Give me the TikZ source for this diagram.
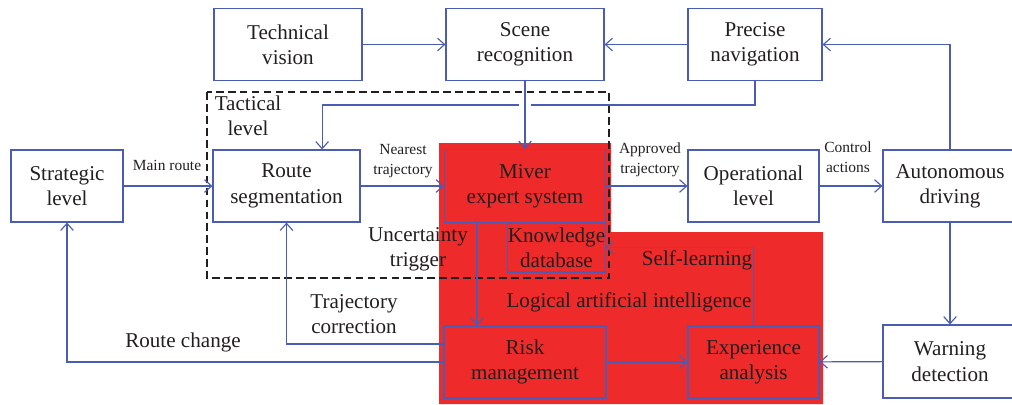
\documentclass[tikz,border=0pt]{standalone}
\usepackage{fontspec}
\setmainfont{Liberation Serif}
\usetikzlibrary{arrows.meta, positioning, calc}
\definecolor{linkblue}{HTML}{4A5CB4}
\definecolor{aired}{HTML}{EE2A2A}
\definecolor{inkgray}{HTML}{231F20}
\tikzset{
  block/.style={draw=linkblue, line width=0.8pt, align=center, text=inkgray,
    font=\fontsize{15}{18}\selectfont, inner sep=0pt},
  flow/.style={draw=linkblue, line width=0.8pt, -{Straight Barb[length=5pt,width=9pt]}},
  note/.style={align=center, text=inkgray, font=\fontsize{11}{14.5}\selectfont, inner sep=1pt},
  tag/.style={align=center, text=inkgray, font=\fontsize{15}{18}\selectfont, inner sep=1pt},
}

\begin{document}
\begin{tikzpicture}[x=0.025cm, y=-0.025cm]
  \clip (0,0) rectangle (1012,404);

  % logical AI area and tactical level frame
  \fill[aired] (439,143) -- (611,143) -- (611,232) -- (823,232) -- (823,404) -- (439,404) -- cycle;
  \draw[inkgray, line width=0.8pt, dash pattern=on 5.5pt off 3pt] (207,92) rectangle (609,278);

  % top row
  \node[block, minimum width=3.7cm, minimum height=1.78cm] (techvis) at (288,44.5) {Technical\\vision};
  \node[block, minimum width=3.95cm, minimum height=1.78cm] (scene) at (525,44.5) {Scene\\recognition};
  \node[block, minimum width=3.35cm, minimum height=1.78cm] (precnav) at (755,44.5) {Precise\\navigation};

  % middle row
  \node[block, minimum width=2.8cm, minimum height=1.8cm] (strategic) at (67,186) {Strategic\\level};
  \node[block, minimum width=3.675cm, minimum height=1.8cm] (routeseg) at (286.5,186) {Route\\segmentation};
  \node[block, minimum width=4.025cm, minimum height=1.825cm] (miver) at (525,186) {Miver\\expert system};
  \node[block, minimum width=2.425cm, minimum height=1.225cm] (knowledge) at (556.5,247.5) {Knowledge\\database};
  \node[block, minimum width=3.275cm, minimum height=1.8cm] (operational) at (753.5,186) {Operational\\level};
  \node[block, minimum width=3.35cm, minimum height=1.8cm] (autonomous) at (950,186) {Autonomous\\driving};

  % bottom row
  \node[block, minimum width=4.05cm, minimum height=1.8cm] (risk) at (525,362) {Risk\\management};
  \node[block, minimum width=3.275cm, minimum height=1.8cm] (experience) at (753.5,362) {Experience\\analysis};
  \node[block, minimum width=3.35cm, minimum height=1.825cm] (warning) at (950,361.5) {Warning\\detection};

  % labels
  \node[note] (mainlbl) at (167,165) {Main route};
  \node[note] (nearlbl) at (403,161) {Nearest\\trajectory};
  \node[note] (apprlbl) at (650,160) {Approved\\trajectory};
  \node[note] (ctrllbl) at (848,157) {Control\\actions};
  \node[tag] (tacticlbl) at (248,116) {Tactical\\level};
  \node[tag] (uncertlbl) at (418,249) {Uncertainty\\trigger};
  \node[tag] (selflbl) at (697,260) {Self-learning};
  \node[tag] (logiclbl) at (629,302) {Logical artificial intelligence};
  \node[tag] (corrlbl) at (354,314) {Trajectory\\correction};
  \node[tag] (changelbl) at (183,342) {Route change};

  % connectors
  \coordinate (hop) at (525,105);
  \draw[flow] (techvis) -- (scene);
  \draw[flow] (precnav) -- (scene);
  \draw[flow] (autonomous.north) |- (precnav.east);
  \draw[flow] (precnav.south) |- ([xshift=0.15cm]hop) ([xshift=-0.15cm]hop) -| ([xshift=0.89cm]routeseg.north);
  \draw[flow] (scene) -- (miver);
  \draw[flow] (strategic) -- (routeseg);
  \draw[flow] (routeseg) -- (miver);
  \draw[flow] (miver) -- (operational);
  \draw[flow] (operational) -- (autonomous);
  \draw[flow] (autonomous) -- (warning);
  \draw[flow] (warning) -- (experience);
  \draw[flow] (risk) -- (experience);
  \draw[flow] (experience.north) |- (knowledge.east);
  \draw[flow] ([xshift=-1.2cm]miver.south) -- ([xshift=-1.2cm]risk.north);
  \draw[flow] ([yshift=0.45cm]risk.west) -| (routeseg.south);
  \draw[flow] (risk.west) -| (strategic.south);
\end{tikzpicture}
\end{document}
